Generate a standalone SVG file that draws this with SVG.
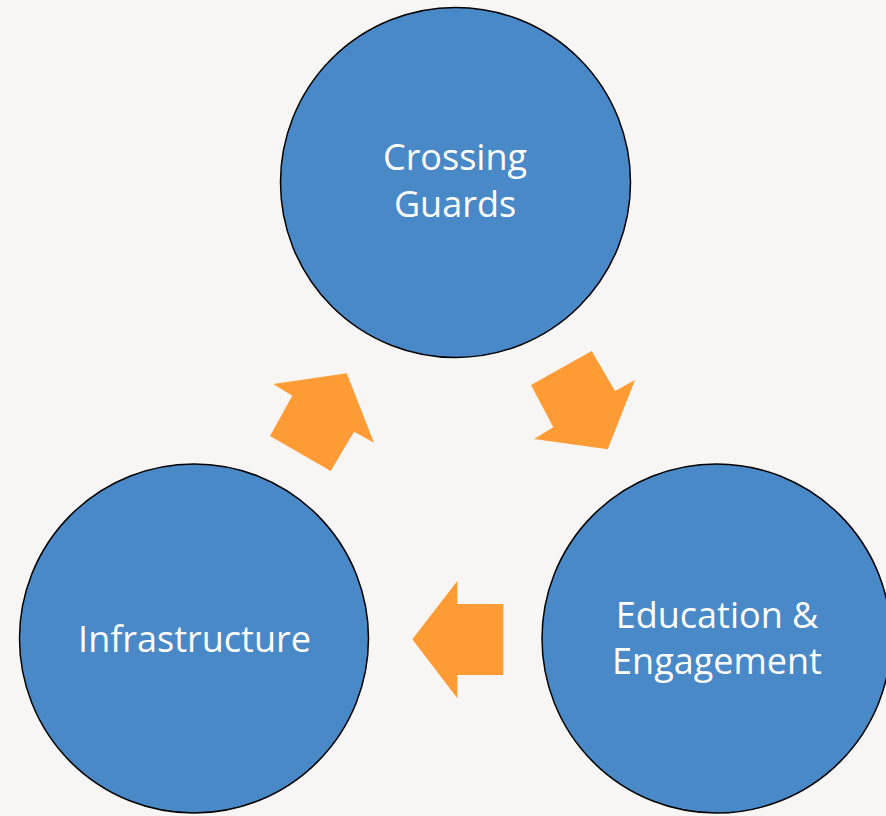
<svg xmlns="http://www.w3.org/2000/svg" width="886" height="816" viewBox="0 0 886 816">
<style>
.node circle{fill:#4A89C8;stroke:#000;stroke-width:1.5}
.node text{fill:#fff;font-family:"Open Sans","Liberation Sans",sans-serif;font-size:36px;text-anchor:middle}
.arrow{fill:#FF9B35}
</style>
<rect width="886" height="816" fill="#F7F6F4"/>
<g id="crossing-guards" class="node">
<circle cx="455.5" cy="182.5" r="175"/>
<text x="455" y="170">Crossing</text>
<text x="455" y="216.5">Guards</text>
</g>
<g id="education-engagement" class="node">
<circle cx="716.5" cy="638.5" r="174.5"/>
<text x="717" y="628">Education &amp;</text>
<text x="717" y="674">Engagement</text>
</g>
<g id="infrastructure" class="node">
<circle cx="194" cy="638.5" r="174.5"/>
<text x="194.5" y="651.5">Infrastructure</text>
</g>
<g id="connectors">
<polygon class="arrow" points="273.3,384 346.7,373.3 374,442.7 354,431.7 330.7,471 270,436 292.3,395.7"/>
<polygon class="arrow" points="591.7,351 615,391 635,380 607.7,449.3 534,439 553.3,427.3 531,385"/>
<polygon class="arrow" points="457.3,581 457.3,604 503.3,604 503.3,675 457.3,675 457.3,698.3 412.3,639.3"/>
</g>
</svg>
